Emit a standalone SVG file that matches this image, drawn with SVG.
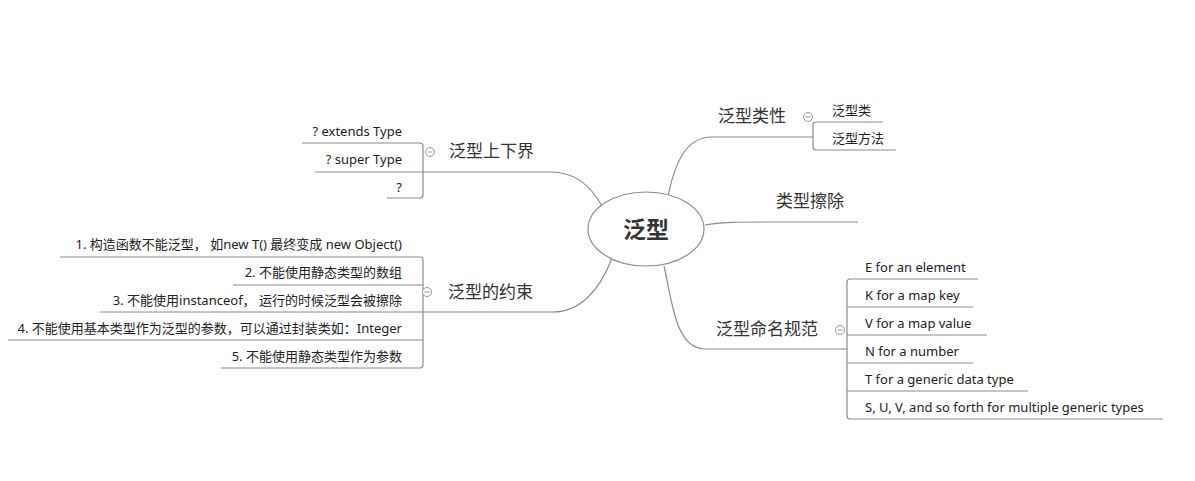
<svg xmlns="http://www.w3.org/2000/svg" width="1195" height="481" viewBox="0 0 1195 481">
<style>
.ln{fill:none;stroke:#8c8c8c;stroke-width:1.2}
.br{font-family:"Noto Sans CJK SC","Noto Sans",sans-serif;font-size:17px;fill:#333}
.sb{font-family:"Noto Sans","Noto Sans CJK SC",sans-serif;font-size:13px;fill:#222}
.r{text-anchor:end}
.cc{fill:#fff;stroke:#9a9a9a;stroke-width:1}
.cm{stroke:#9a9a9a;stroke-width:1}
</style>
<defs>
<g id="col"><circle class="cc" r="4.5"/><line class="cm" x1="-2.5" y1="0" x2="2.5" y2="0"/></g>
</defs>
<rect width="1195" height="481" fill="#fff"/>
<g id="connectors">
<path class="ln" d="M668,196 C676,158 688,137 712,137 H813"/>
<path class="ln" d="M705,225 C720,222 740,222 770,222 H858"/>
<path class="ln" d="M664,266 C672,300 675,349 705,349 H847"/>
<path class="ln" d="M602,206 C590,185 575,172 550,172 H423"/>
<path class="ln" d="M612,258 C600,290 580,312 553,312 H423"/>
<path class="ln" d="M883,122 H816 Q813,122 813,125 V147 Q813,150 816,150 H896"/>
<path class="ln" d="M978,279 H850 Q847,279 847,282 V416 Q847,419 850,419 H1163"/>
<path class="ln" d="M847,307 H973 M847,335 H987 M847,363 H973 M847,391 H1028"/>
<path class="ln" d="M302,143 H420 Q423,143 423,146 V195 Q423,198 420,198 H387"/>
<path class="ln" d="M315,172 H423"/>
<path class="ln" d="M60,257 H420 Q423,257 423,260 V365 Q423,368 420,368 H221"/>
<path class="ln" d="M233,285 H423 M100,312 H423 M8,340 H423"/>
</g>
<g id="center">
<ellipse cx="646" cy="229" rx="58" ry="37" fill="#fff" stroke="#8c8c8c" stroke-width="1.2"/>
<text x="646" y="238" text-anchor="middle" font-family="Noto Sans CJK SC,sans-serif" font-size="23" font-weight="bold" fill="#333">泛型</text>
</g>
<g id="n-leixing">
<text class="br" x="718" y="122">泛型类性</text>
<use href="#col" x="808" y="117"/>
</g>
<g id="n-fanxinglei"><text class="sb" x="832" y="115">泛型类</text></g>
<g id="n-fanxingfangfa"><text class="sb" x="832" y="143">泛型方法</text></g>
<g id="n-cachu"><text class="br" x="776" y="207">类型擦除</text></g>
<g id="n-mingming">
<text class="br" x="716" y="335">泛型命名规范</text>
<use href="#col" x="840" y="330"/>
</g>
<g id="n-e"><text class="sb" x="865" y="272">E for an element</text></g>
<g id="n-k"><text class="sb" x="865" y="300">K for a map key</text></g>
<g id="n-v"><text class="sb" x="865" y="328">V for a map value</text></g>
<g id="n-n"><text class="sb" x="865" y="356">N for a number</text></g>
<g id="n-t"><text class="sb" x="865" y="384">T for a generic data type</text></g>
<g id="n-s"><text class="sb" x="865" y="412">S, U, V, and so forth for multiple generic types</text></g>
<g id="n-jie">
<text class="br" x="449" y="157">泛型上下界</text>
<use href="#col" x="430" y="152"/>
</g>
<g id="n-ext"><text class="sb r" x="402" y="136">? extends Type</text></g>
<g id="n-sup"><text class="sb r" x="402" y="164">? super Type</text></g>
<g id="n-q"><text class="sb r" x="402" y="192">?</text></g>
<g id="n-yueshu">
<text class="br" x="448" y="298">泛型的约束</text>
<use href="#col" x="427" y="292"/>
</g>
<g id="n-1"><text class="sb r" x="402" y="249">1. 构造函数不能泛型， 如new T() 最终变成 new Object()</text></g>
<g id="n-2"><text class="sb r" x="402" y="277">2. 不能使用静态类型的数组</text></g>
<g id="n-3"><text class="sb r" x="402" y="305">3. 不能使用instanceof， 运行的时候泛型会被擦除</text></g>
<g id="n-4"><text class="sb r" x="402" y="333">4. 不能使用基本类型作为泛型的参数，可以通过封装类如：Integer</text></g>
<g id="n-5"><text class="sb r" x="402" y="361">5. 不能使用静态类型作为参数</text></g>
</svg>
